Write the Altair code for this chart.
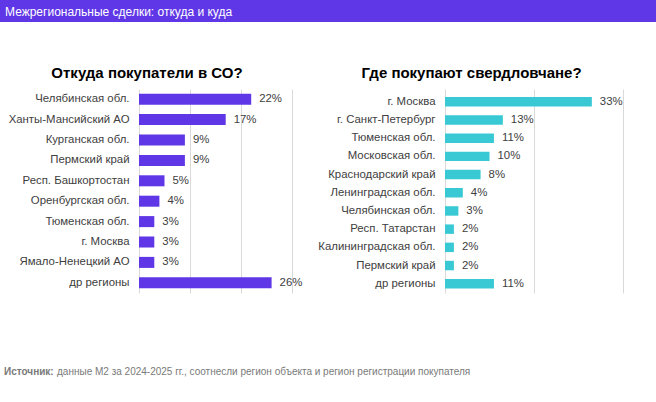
import altair as alt
import pandas as pd

# ---- data ----
from_regions = ["Челябинская обл.", "Ханты-Мансийский АО", "Курганская обл.", "Пермский край",
                "Респ. Башкортостан", "Оренбургская обл.", "Тюменская обл.", "г. Москва",
                "Ямало-Ненецкий АО", "др регионы"]
from_values = [22, 17, 9, 9, 5, 4, 3, 3, 3, 26]

to_regions = ["г. Москва", "г. Санкт-Петербург", "Тюменская обл.", "Московская обл.",
              "Краснодарский край", "Ленинградская обл.", "Челябинская обл.", "Респ. Татарстан",
              "Калининградская обл.", "Пермский край", "др регионы"]
to_values = [33, 13, 11, 10, 8, 4, 3, 2, 2, 2, 11]

header_text = "Межрегиональные сделки: откуда и куда"
left_title = "Откуда покупатели в СО?"
right_title = "Где покупают свердловчане?"
source_bold = "Источник:"
source_text = "данные М2 за 2024-2025 гг., соотнесли регион объекта и регион регистрации покупателя"

FONT = "Liberation Sans"
PURPLE = "#5f37e6"
TEAL = "#38c9d4"

df_from = pd.DataFrame({"region": from_regions, "value": from_values,
                        "label": [f"{v}%" for v in from_values]})
df_to = pd.DataFrame({"region": to_regions, "value": to_values,
                      "label": [f"{v}%" for v in to_values]})
one = pd.DataFrame({"a": [0]})

LW, RW, H = 153, 178, 204
OX, OY = 139, 89  # origin of left plot area on the canvas
W_ALL, H_ALL = 656, 402


def panel(df, regions, color, domain, grid_vals, y_scale):
    base = alt.Chart(df)
    x = alt.X("value:Q", scale=alt.Scale(domain=domain, nice=False),
              axis=alt.Axis(values=grid_vals, labels=False, ticks=False, domain=False,
                            title=None, grid=True, gridColor="#d9d9d9", gridWidth=1))
    y = alt.Y("region:N", sort=regions, scale=y_scale,
              axis=alt.Axis(title=None, ticks=False, domain=False, labelFontSize=11.4,
                            labelFont=FONT, labelColor="#404040", labelPadding=10,
                            labelLimit=300))
    bars = base.mark_bar(color=color).encode(x=x, y=y)
    labels = base.mark_text(align="left", baseline="middle", dx=8, fontSize=11.4,
                            font=FONT, color="#404040").encode(
        x="value:Q", y=alt.Y("region:N", sort=regions), text="label:N")
    return bars, labels


lb, ll = panel(df_from, from_regions, PURPLE, [0, 30], [0, 10, 20, 30],
               alt.Scale(paddingInner=0.46, paddingOuter=0.23))
rb, rl = panel(df_to, to_regions, TEAL, [0, 40], [0, 20, 40],
               alt.Scale(paddingInner=0.48, paddingOuter=0.345, align=0.64))

# decorations (canvas extent, header, titles, footer)
bg = alt.Chart(one).mark_rect(color="white", opacity=0).encode(
    x=alt.value(-OX), x2=alt.value(W_ALL - OX), y=alt.value(-OY), y2=alt.value(H_ALL - OY))
header = alt.Chart(one).mark_rect(color=PURPLE).encode(
    x=alt.value(-OX), x2=alt.value(W_ALL - OX), y=alt.value(-OY), y2=alt.value(22 - OY))
header_t = alt.Chart(one).mark_text(align="left", baseline="alphabetic", fontSize=12,
                                    font=FONT, color="white").encode(
    x=alt.value(5 - OX), y=alt.value(16 - OY), text=alt.value(header_text))
ltitle = alt.Chart(one).mark_text(align="center", baseline="alphabetic", fontSize=15,
                                  font=FONT, fontWeight="bold", color="black").encode(
    x=alt.value(147 - OX), y=alt.value(77.5 - OY), text=alt.value(left_title))
src_b = alt.Chart(one).mark_text(align="left", baseline="alphabetic", fontSize=10,
                                 font=FONT, fontWeight="bold", color="#7a7a7a").encode(
    x=alt.value(4 - OX), y=alt.value(375 - OY), text=alt.value(source_bold))
src_t = alt.Chart(one).mark_text(align="left", baseline="alphabetic", fontSize=10,
                                 font=FONT, color="#7a7a7a").encode(
    x=alt.value(57 - OX), y=alt.value(375 - OY), text=alt.value(source_text))

RX = OX + LW + 153
rtitle = alt.Chart(one).mark_text(align="center", baseline="alphabetic", fontSize=15,
                                  font=FONT, fontWeight="bold", color="black").encode(
    x=alt.value(471.5 - RX), y=alt.value(77.5 - OY), text=alt.value(right_title))

left = alt.layer(bg, header, header_t, ltitle, src_b, src_t, lb, ll).properties(width=LW, height=H)
right = alt.layer(rtitle, rb, rl).properties(width=RW, height=H)

chart = alt.hconcat(left, right, spacing=153, bounds="flush").properties(
    padding=0, background="white"
).configure_view(stroke=None)

chart.save("out.html", embed_options={"renderer": "svg", "actions": False})
